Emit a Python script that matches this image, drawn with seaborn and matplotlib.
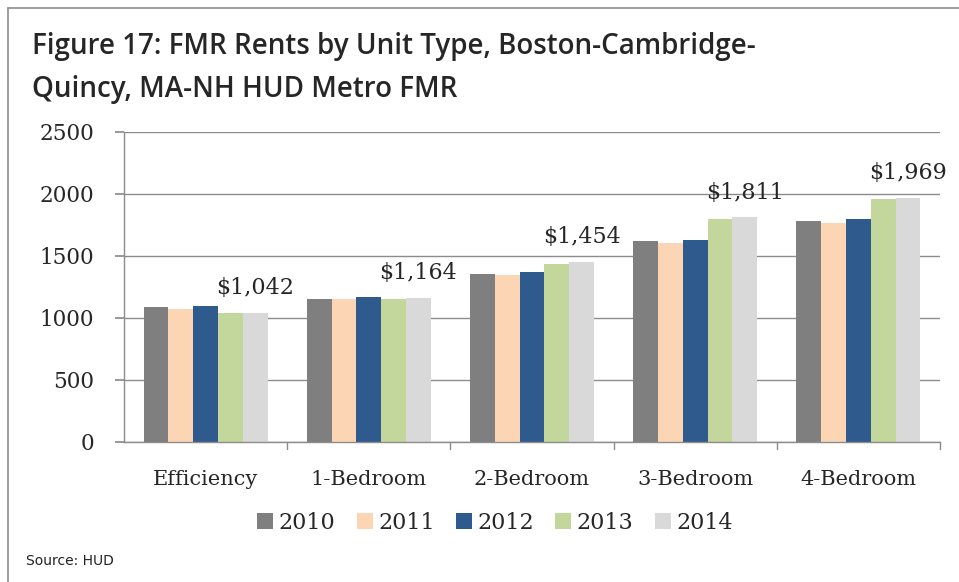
import matplotlib
matplotlib.use("Agg")
import matplotlib.pyplot as plt
import seaborn as sns
import pandas as pd
from matplotlib.lines import Line2D

units = ["Efficiency", "1-Bedroom", "2-Bedroom", "3-Bedroom", "4-Bedroom"]
years = ["2010", "2011", "2012", "2013", "2014"]
rent_2010 = [1088, 1152, 1358, 1618, 1786]
rent_2011 = [1072, 1150, 1343, 1604, 1770]
rent_2012 = [1100, 1170, 1369, 1631, 1797]
rent_2013 = [1039, 1152, 1436, 1800, 1958]
rent_2014 = [1042, 1164, 1454, 1811, 1969]
colors = ["#7f7f7f", "#fcd5b5", "#2f5a8e", "#c3d69b", "#d9d9d9"]

series = [rent_2010, rent_2011, rent_2012, rent_2013, rent_2014]
rows = []
for y, vals in zip(years, series):
    for u, v in zip(units, vals):
        rows.append({"unit": u, "year": y, "rent": v})
df = pd.DataFrame(rows)

sns.set_theme(style="white")
plt.rcParams["font.family"] = ["DejaVu Serif"]

W, H = 959, 582
fig = plt.figure(figsize=(W / 100, H / 100), dpi=100)
ax = fig.add_axes([124 / W, 1 - 442 / H, (940 - 124) / W, (442 - 132) / H])

sns.barplot(data=df, x="unit", y="rent", hue="year", palette=colors,
            width=0.76, saturation=1, ax=ax, legend=True, edgecolor="none")

ax.set_ylim(0, 2500)
ax.set_yticks([0, 500, 1000, 1500, 2000, 2500])
ax.yaxis.grid(True, color="#8c8c8c", linewidth=1.0)
ax.set_axisbelow(True)
ax.set_xlim(-0.5, 4.5)
ax.set_xlabel("")
ax.set_ylabel("")
for s in ["top", "right"]:
    ax.spines[s].set_visible(False)
for s in ["left", "bottom"]:
    ax.spines[s].set_color("#8c8c8c")
    ax.spines[s].set_linewidth(1.0)
ax.tick_params(axis="y", labelsize=15.5, length=6.5, color="#8c8c8c", left=True, pad=15)
ax.tick_params(axis="x", labelsize=15, length=0, pad=20)
for x in [0.5, 1.5, 2.5, 3.5, 4.5]:
    ax.plot([x, x], [0, -0.022], transform=ax.get_xaxis_transform(),
            color="#8c8c8c", linewidth=1.0, clip_on=False)

ax.bar_label(ax.containers[-1], labels=[f"${v:,}" for v in rent_2014],
             fontsize=16, padding=10)

handles, labels = ax.get_legend_handles_labels()
ax.legend(handles, labels, loc="center", bbox_to_anchor=(495 / W, 1 - 523 / H),
          bbox_transform=fig.transFigure,
          ncol=5, frameon=False, handlelength=0.72, handleheight=0.72,
          handletextpad=0.25, columnspacing=0.95, borderpad=0,
          prop={"family": "DejaVu Serif", "size": 16})

fig.text(32 / W, 1 - 54 / H, "Figure 17: FMR Rents by Unit Type, Boston-Cambridge-",
         fontsize=20, family="Open Sans", weight="semibold", va="baseline", ha="left")
fig.text(32 / W, 1 - 97 / H, "Quincy, MA-NH HUD Metro FMR",
         fontsize=20, family="Open Sans", weight="semibold", va="baseline", ha="left")
fig.text(26 / W, 1 - 561 / H, "Source: HUD", fontsize=10, family="DejaVu Sans",
         va="center", ha="left", color="#222222")

# chart frame (only top and left edges are visible in the image)
fig.add_artist(Line2D([8 / W, 1.0], [1 - 8 / H, 1 - 8 / H], transform=fig.transFigure,
                      color="#8c8c8c", linewidth=1.2))
fig.add_artist(Line2D([8 / W, 8 / W], [0.0, 1 - 8 / H], transform=fig.transFigure,
                      color="#8c8c8c", linewidth=1.2))

fig.savefig("out.png", dpi=100)
